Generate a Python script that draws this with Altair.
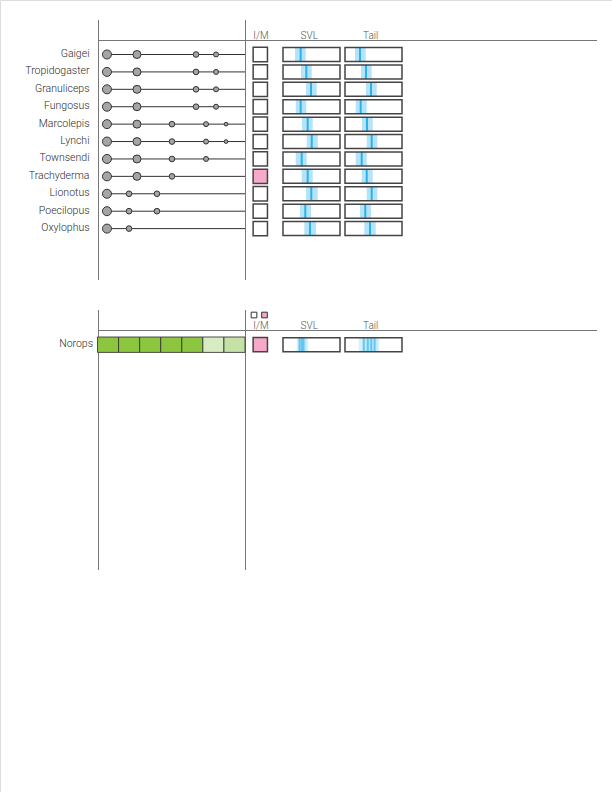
import altair as alt
import pandas as pd

# ---------------- data ----------------
species = ["Gaigei", "Tropidogaster", "Granuliceps", "Fungosus", "Marcolepis",
           "Lynchi", "Townsendi", "Trachyderma", "Lionotus", "Poecilopus", "Oxylophus"]

# character dots (position on character axis 0-100, size class 1-5)
dot_species = (["Gaigei"] * 4 + ["Tropidogaster"] * 4 + ["Granuliceps"] * 4 + ["Fungosus"] * 4
               + ["Marcolepis"] * 5 + ["Lynchi"] * 5 + ["Townsendi"] * 4 + ["Trachyderma"] * 3
               + ["Lionotus"] * 3 + ["Poecilopus"] * 3 + ["Oxylophus"] * 2)
dot_pos = ([6.1, 26.5, 66.7, 80.3] * 4
           + [6.1, 26.5, 50.3, 73.5, 87.1] * 2
           + [6.1, 26.5, 50.3, 73.5]
           + [6.1, 26.5, 50.3]
           + [6.1, 21.1, 40.1] * 2
           + [6.1, 21.1])
dot_level = ([5, 4, 3, 2] * 4
             + [5, 4, 3, 2, 1] * 2
             + [5, 4, 3, 2]
             + [5, 4, 3]
             + [5, 3, 3] * 2
             + [5, 3])

im_state = [0, 0, 0, 0, 0, 0, 0, 1, 0, 0, 0]

svl_lo = [21.0, 31.6, 40.4, 22.3, 33.3, 41.6, 22.3, 32.8, 40.4, 29.8, 37.4]
svl_hi = [39.8, 50.4, 59.1, 40.9, 52.1, 60.9, 41.6, 52.1, 60.9, 49.1, 57.9]
svl_mid = [31.0, 40.9, 49.1, 31.0, 43.3, 50.4, 32.8, 43.3, 49.6, 39.1, 47.4]

tail_lo = [17.5, 28.1, 36.8, 18.8, 29.8, 38.1, 18.8, 29.3, 38.1, 26.3, 33.9]
tail_hi = [36.3, 46.8, 55.6, 38.1, 48.6, 56.7, 38.1, 48.6, 56.7, 45.6, 53.9]
tail_mid = [26.3, 36.8, 45.6, 27.5, 38.6, 46.8, 29.3, 38.1, 46.8, 35.6, 43.9]

# bottom group
group = ["Norops"]
cell_ids = ["c1", "c2", "c3", "c4", "c5", "c6", "c7"]
cell_state = ["full", "full", "full", "full", "full", "light", "mid"]
group_im = [1]
legend_im = [0, 1]

norops_svl_lo = [24.0, 27.0, 28.0]
norops_svl_hi = [40.0, 41.5, 44.0]
norops_svl_mid = [29.0, 33.0, 36.0]
norops_tail_lo = [24.0, 30.0, 36.0, 40.0]
norops_tail_hi = [44.0, 52.0, 57.0, 60.0]
norops_tail_mid = [33.0, 40.0, 46.0, 52.0]

# ---------------- scales ----------------
rows_top = alt.Scale(type="point", domain=species, range=[54.5, 228.6], padding=0)
row_bot = alt.Scale(type="point", domain=group, range=[337, 352.4])
row_bot_band = alt.Scale(type="band", domain=group, range=[337, 352.4], paddingInner=0, paddingOuter=0)
circ_x = alt.Scale(domain=[0, 100], range=[98, 245])
svl_x = alt.Scale(domain=[0, 100], range=[283, 340])
tail_x = alt.Scale(domain=[0, 100], range=[345, 402])
cell_x = alt.Scale(type="band", domain=cell_ids, range=[97.5, 245], paddingInner=0, paddingOuter=0)
size_scale = alt.Scale(type="ordinal", domain=["1", "2", "3", "4", "5"], range=[14, 25, 32, 64, 81])

LINE = "#777777"
BOX = "#444444"
BAND = "#b6e3f8"
MID = "#29b3ea"
PINK = "#f6a9ca"
im_color = alt.Scale(domain=[0, 1], range=["white", PINK])

dots = pd.DataFrame({"species": dot_species, "pos": dot_pos, "level": [str(v) for v in dot_level]})
rows = dots.groupby("species", sort=False)["pos"].min().reset_index()
rows["end"] = 100
top = pd.DataFrame({"species": species, "im": im_state,
                    "svl_lo": svl_lo, "svl_hi": svl_hi, "svl_mid": svl_mid,
                    "tail_lo": tail_lo, "tail_hi": tail_hi, "tail_mid": tail_mid,
                    "start": 0, "end": 100})
cells = pd.DataFrame({"cell": cell_ids, "state": cell_state, "species": "Norops"})
bot = pd.DataFrame({"species": group, "im": group_im, "start": 0, "end": 100})
bsvl = pd.DataFrame({"species": "Norops", "lo": norops_svl_lo, "hi": norops_svl_hi, "mid": norops_svl_mid})
btail = pd.DataFrame({"species": "Norops", "lo": norops_tail_lo, "hi": norops_tail_hi, "mid": norops_tail_mid})
leg = pd.DataFrame({"im": legend_im})

layers = []

# frame lines
def vline(x, y1, y2):
    return alt.Chart(pd.DataFrame({"a": [0]})).mark_rule(color=LINE, strokeWidth=1).encode(
        x=alt.value(x), y=alt.value(y1), y2=alt.value(y2))

def hline(y, x1, x2):
    return alt.Chart(pd.DataFrame({"a": [0]})).mark_rule(color=LINE, strokeWidth=1).encode(
        y=alt.value(y), x=alt.value(x1), x2=alt.value(x2))

layers += [vline(98.5, 20, 280), vline(245.5, 20, 280), hline(40.5, 98, 597),
           vline(98.5, 310, 570), vline(245.5, 310, 570), hline(330.5, 98, 597)]

# headers
def header(txt, y, xenc):
    return alt.Chart(pd.DataFrame({"t": [txt]})).mark_text(
        font="Roboto", fontSize=10, fontWeight=300, color="#555555", baseline="alphabetic", align="center"
    ).encode(text="t:N", x=xenc, y=alt.value(y))

for y in (39, 329):
    layers += [
        header("I/M", y, alt.value(261)),
        header("SVL", y, alt.X(datum=46, type="quantitative", scale=svl_x, axis=None)),
        header("Tail", y, alt.X(datum=45, type="quantitative", scale=tail_x, axis=None)),
    ]

# row labels
LABEL_STYLE = dict(font="Roboto", fontSize=10.5, fontWeight=300, color="#2a2a2a", align="right",
                   baseline="alphabetic", dy=2.5)
layers.append(alt.Chart(top).mark_text(**LABEL_STYLE).encode(
    text="species:N", x=alt.value(89.5), y=alt.Y("species:N", scale=rows_top, axis=None)))
layers.append(alt.Chart(bot).mark_text(**LABEL_STYLE).encode(
    text="species:N", x=alt.value(93), y=alt.Y("species:N", scale=row_bot, axis=None)))

# row lines and dots
layers.append(alt.Chart(rows).mark_rule(color="#333333", strokeWidth=1).encode(
    x=alt.X("pos:Q", scale=circ_x, axis=None), x2="end:Q",
    y=alt.Y("species:N", scale=rows_top, axis=None)))
layers.append(alt.Chart(dots).mark_circle(fill="#a7a4a4", stroke="#333333", strokeWidth=1, opacity=1).encode(
    x=alt.X("pos:Q", scale=circ_x, axis=None),
    y=alt.Y("species:N", scale=rows_top, axis=None),
    size=alt.Size("level:N", scale=size_scale, legend=None)))

# I/M squares
layers.append(alt.Chart(top).mark_square(size=205, stroke=BOX, strokeWidth=1.5, opacity=1).encode(
    x=alt.value(260.3), y=alt.Y("species:N", scale=rows_top, axis=None),
    fill=alt.Fill("im:N", scale=im_color, legend=None)))
layers.append(alt.Chart(bot).mark_square(size=205, stroke=BOX, strokeWidth=1.5, opacity=1).encode(
    x=alt.value(260.3), y=alt.Y("species:N", scale=row_bot, axis=None),
    fill=alt.Fill("im:N", scale=im_color, legend=None)))
layers.append(alt.Chart(leg).mark_square(size=32, stroke="#333333", strokeWidth=1, opacity=1).encode(
    x=alt.X("im:N", scale=alt.Scale(type="point", domain=legend_im, range=[254, 264.5], padding=0), axis=None),
    y=alt.value(315),
    fill=alt.Fill("im:N", scale=im_color, legend=None)))

# SVL / Tail boxes with ranges
for xscale, lo, hi, mid in ((svl_x, "svl_lo", "svl_hi", "svl_mid"), (tail_x, "tail_lo", "tail_hi", "tail_mid")):
    layers.append(alt.Chart(top).mark_bar(height=14, fill="white").encode(
        x=alt.X("start:Q", scale=xscale, axis=None), x2="end:Q",
        y=alt.Y("species:N", scale=rows_top, axis=None)))
    layers.append(alt.Chart(top).mark_bar(height=14, color=BAND).encode(
        x=alt.X(lo + ":Q", scale=xscale, axis=None), x2=hi + ":Q",
        y=alt.Y("species:N", scale=rows_top, axis=None)))
    layers.append(alt.Chart(top).mark_tick(thickness=2, size=14, color=MID, opacity=1).encode(
        x=alt.X(mid + ":Q", scale=xscale, axis=None),
        y=alt.Y("species:N", scale=rows_top, axis=None)))
    layers.append(alt.Chart(top).mark_bar(height=14, fill="transparent", stroke=BOX, strokeWidth=1.5).encode(
        x=alt.X("start:Q", scale=xscale, axis=None), x2="end:Q",
        y=alt.Y("species:N", scale=rows_top, axis=None)))

for xscale, dfb in ((svl_x, bsvl), (tail_x, btail)):
    layers.append(alt.Chart(bot).mark_bar(height=14, fill="white").encode(
        x=alt.X("start:Q", scale=xscale, axis=None), x2="end:Q",
        y=alt.Y("species:N", scale=row_bot, axis=None)))
    layers.append(alt.Chart(dfb).mark_bar(height=14, color=BAND, opacity=0.55).encode(
        x=alt.X("lo:Q", scale=xscale, axis=None), x2="hi:Q",
        y=alt.Y("species:N", scale=row_bot, axis=None)))
    layers.append(alt.Chart(dfb).mark_tick(thickness=2, size=14, color=MID, opacity=0.6).encode(
        x=alt.X("mid:Q", scale=xscale, axis=None),
        y=alt.Y("species:N", scale=row_bot, axis=None)))
    layers.append(alt.Chart(bot).mark_bar(height=14, fill="transparent", stroke=BOX, strokeWidth=1.5).encode(
        x=alt.X("start:Q", scale=xscale, axis=None), x2="end:Q",
        y=alt.Y("species:N", scale=row_bot, axis=None)))

# Norops cell strip
layers.append(alt.Chart(cells).mark_rect(stroke="#333333", strokeWidth=1, strokeOpacity=0.85, opacity=1).encode(
    x=alt.X("cell:N", scale=cell_x, axis=None),
    y=alt.Y("species:N", scale=row_bot_band, axis=None),
    fill=alt.Fill("state:N", scale=alt.Scale(domain=["full", "light", "mid"],
                                             range=["#8cc63f", "#d8ecc4", "#c6e1a6"]), legend=None)))

chart = alt.layer(*layers).resolve_scale(
    x="independent", y="independent", fill="independent", size="independent"
).properties(
    width=612, height=792, padding=0,
    autosize=alt.AutoSizeParams(type="none")
).configure_view(stroke=None).configure(background="white")

chart.save("out.html", embed_options={"renderer": "svg", "actions": False})
